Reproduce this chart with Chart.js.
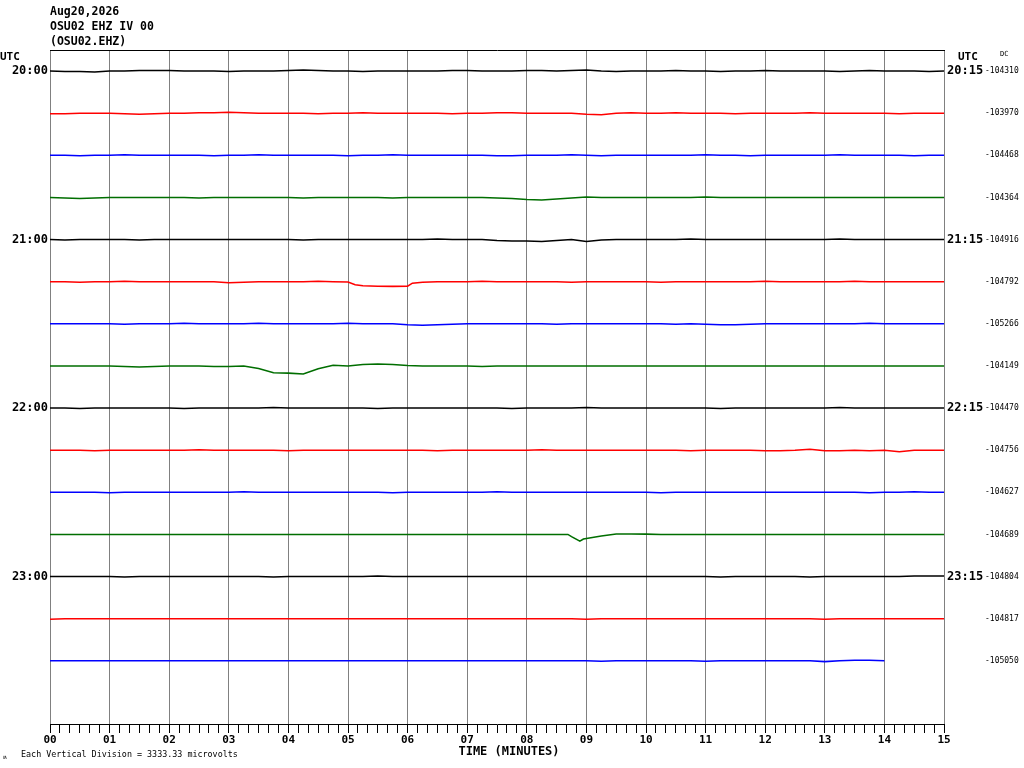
<!DOCTYPE html>
<html>
<head>
<meta charset="utf-8">
<title>OSU02 EHZ IV 00</title>
<script src="https://cdn.jsdelivr.net/npm/chart.js@4.4.1/dist/chart.umd.min.js"></script>
<style>
  html, body { margin: 0; padding: 0; background: #fff; }
  canvas { display: block; }
</style>
</head>
<body>
<canvas id="heli" width="1024" height="768"></canvas>
<script>
// header + labels
const titleLines = ['Aug20,2026', 'OSU02 EHZ IV 00', '(OSU02.EHZ)'];
const hourLabelsLeft = ['20:00', '21:00', '22:00', '23:00'];
const hourLabelsRight = ['20:15', '21:15', '22:15', '23:15'];
const dcOffsets = [-104310, -103970, -104468, -104364, -104916, -104792, -105266, -104149,
                   -104470, -104756, -104627, -104689, -104804, -104817, -105050];
const traceColors = ['#000000', '#ff0000', '#0000ff', '#006e00'];
const divisionText = 'Each Vertical Division = 3333.33 microvolts';

// one sample every 15 s, deviation of each line (42 units = one line spacing, + is down)
const SAMPLE_STEP = 0.25;
const UNITS_PER_DIV = 42;
const trace00 = [0,0.5,0.5,1, 0,0,-0.5,-0.5, -0.5,0,0,0, 0.5,0,0,0, -0.5,-1,-0.5,0, 0,0.5,0,0, 0,0,0,-0.5, -0.5,0,0,0, -0.5,-0.5,0,-0.5, -1,0,0.5,0, 0,0,-0.5,0, 0,0.5,0,0, -0.5,0,0,0, 0,0.5,0,-0.5, 0,0,0,0.5, 0];
const trace01 = [0.5,0.5,0,0, 0,0.5,1,0.5, 0,0,-0.5,-0.5, -1,-0.5,0,0, 0,0,0.5,0, 0,-0.5,0,0, 0,0,0,0.5, 0,0,-0.5,-0.5, 0,0,0,0, 1,1.5,0,-0.5, 0,0,-0.5,0, 0,0,0.5,0, 0,0,0,-0.5, 0,0,0,0, 0,0.5,0,0, 0];
const trace02 = [0,0,0.5,0, 0,-0.5,0,0, 0,0,0,0.5, 0,0,-0.5,0, 0,0,0,0, 0.5,0,0,-0.5, 0,0,0,0, 0,0,0.5,0.5, 0,0,0,-0.5, 0,0.5,0,0, 0,0,0,0, -0.5,0,0,0.5, 0,0,0,0, 0,-0.5,0,0, 0,0,0.5,0, 0];
const trace03 = [0,0.5,1,0.5, 0,0,0,0, 0,0,0.5,0, 0,0,0,0, 0,0.5,0,0, 0,0,0,0.5, 0,0,0,0, 0,0,0.5,1, 2,2.5,1.5,0.5, -0.5,0,0,0, 0,0,0,0, -0.5,0,0,0, 0,0,0,0, 0,0,0,0, 0,0,0,0, 0];
const trace04 = [0,0.5,0,0, 0,0,0.5,0, 0,0,0,0, 0,0,0,0, 0,0.5,0,0, 0,0,0,0, 0,0,-0.5,0, 0,0,1,1.5, 1.5,2,1,0, 2,0.5,0,0, 0,0,0,-0.5, 0,0,0,0, 0,0,0,0, 0,-0.5,0,0, 0,0,0,0, 0];
const trace05 = [0,0,0.5,0, 0,-0.5,0,0, 0,0,0,0, 1,0.5,0,0, 0,0,-0.5,0, 0.3,4,4.5,4.7, 4.4,0.5,0,0, 0,-0.5,0,0, 0,0,0,0.5, 0,0,0,0, 0,0.5,0,0, 0,0,0,0, -0.5,0,0,0, 0,0,-0.5,0, 0,0,0,0, 0];
const trace06 = [0,0,0,0, 0,0.5,0,0, 0,-0.5,0,0, 0,0,-0.5,0, 0,0,0,0, -0.5,0,0,0, 1,1.5,1,0.5, 0,0,0,0, 0,0,0.5,0, 0,0,0,0, 0,0,0.5,0, 0.5,1,1,0.5, 0,0,0,0, 0,0,0,-0.5, 0,0,0,0, 0];
const trace07 = [0,0,0,0, 0,0.5,1,0.5, 0,0,0,0.5, 0.5,0,2.5,6.8, 7.2,8,2.7,-0.7, 0,-1.5,-2,-1.5, -0.5,0,0,0, 0,0.5,0,0, 0,0,0,0, 0,0,0,0, 0,0,0,0, 0,0,0,0, 0,0,0,0, 0,0,0,0, 0,0,0,0, 0];
const trace08 = [0,0,0.5,0, 0,0,0,0, 0,0.5,0,0, 0,0,0,-0.5, 0,0,0,0, 0,0,0.5,0, 0,0,0,0, 0,0,0,0.5, 0,0,0,0, -0.5,0,0,0, 0,0,0,0, 0,0.5,0,0, 0,0,0,0, 0,-0.5,0,0, 0,0,0,0, 0];
const trace09 = [0,0,0,0.5, 0,0,0,0, 0,0,-0.5,0, 0,0,0,0, 0.5,0,0,0, 0,0,0,0, 0,0,0.5,0, 0,0,0,0, 0,-0.5,0,0, 0,0,0,0, 0,0,0,0.5, 0,0,0,0, 0.5,0.5,0,-1, 0.5,0.5,0,0.5, 0,1.5,0,0, 0];
const trace10 = [0,0,0,0, 0.5,0,0,0, 0,0,0,0, 0,-0.5,0,0, 0,0,0,0, 0,0,0,0.5, 0,0,0,0, 0,0,-0.5,0, 0,0,0,0, 0,0,0,0, 0,0.5,0,0, 0,0,0,0, 0,0,0,0, 0,0,0,0.5, 0,0,-0.5,0, 0];
const trace11 = [0,0,0,0, 0,0,0,0, 0,0,0,0, 0,0,0,0, 0,0,0,0, 0,0,0,0, 0,0,0,0, 0,0,0,0, 0,0,0,2.2, 4,1.5,-0.5,-0.5, -0.3,0,0,0, 0,0,0,0, 0,0,0,0, 0,0,0,0, 0,0,0,0, 0];
const trace12 = [0,0,0,0, 0,0.5,0,0, 0,0,0,0, 0,0,0,0.5, 0,0,0,0, 0,0,-0.5,0, 0,0,0,0, 0,0,0,0, 0,0,0,0, 0,0,0,0, 0,0,0,0, 0,0.5,0,0, 0,0,0,0.5, 0,0,0,0, 0,0,-0.5,-0.5, -0.5];
const trace13 = [0.5,0,0,0, 0,0,0,0, 0,0,0,0, 0,0,0,0, 0,0,0,0, 0,0,0,0, 0,0,0,0, 0,0,0,0, 0,0,0,0, 0.5,0,0,0, 0,0,0,0, 0,0,0,0, 0,0,0,0, 0.5,0,0,0, 0,0,0,0, 0];
const trace14 = [0,0,0,0, 0,0,0,0, 0,0,0,0, 0,0,0,0, 0,0,0,0, 0,0,0,0, 0,0,0,0, 0,0,0,0, 0,0,0,0, 0,0.5,0,0, 0,0,0,0, 0.5,0,0,0, 0,0,0,0, 0.8,0,-0.5,-0.5, 0];
const traces = [trace00, trace01, trace02, trace03, trace04, trace05, trace06, trace07,
                trace08, trace09, trace10, trace11, trace12, trace13, trace14];

// sharp wiggles that fall between the 15 s samples: [minute, deviation]
const extraPoints = {
  5: [[5.12, 3], [6.08, 1.5]],
  11: [[8.69, 0], [8.89, 6.7], [8.95, 4.5]]
};

const ctx = document.getElementById('heli');

function buildDatasets() {
  return traces.map((offs, i) => {
    let pts = offs.map((d, k) => ({ x: k * SAMPLE_STEP, y: -i - d / UNITS_PER_DIV }));
    (extraPoints[i] || []).forEach(p => pts.push({ x: p[0], y: -i - p[1] / UNITS_PER_DIV }));
    pts.sort((a, b) => a.x - b.x);
    return {
      data: pts,
      borderColor: traceColors[i % 4],
      borderWidth: 1.6,
      pointRadius: 0,
      tension: 0,
      fill: false
    };
  });
}

function traceTicks(scale) {
  scale.ticks = traces.map((t, i) => ({ value: -i }));
}

// extra texts and the top frame line
const decorations = {
  id: 'decorations',
  afterDraw(chart) {
    const c = chart.ctx;
    const area = chart.chartArea;
    c.save();
    c.strokeStyle = '#000';
    c.lineWidth = 1;
    c.beginPath();
    c.moveTo(area.left, area.top + 0.5);
    c.lineTo(area.right + 1, area.top + 0.5);
    c.stroke();

    c.fillStyle = '#000';
    c.textBaseline = 'middle';
    c.textAlign = 'left';
    c.font = 'bold 11.5px "DejaVu Sans Mono"';
    titleLines.forEach((t, i) => c.fillText(t, 50, 12 + i * 15));

    c.font = 'bold 11px "DejaVu Sans Mono"';
    c.fillText('UTC', 0, 57);
    c.fillText('UTC', 958, 57);
    c.font = '7px "DejaVu Sans Mono"';
    c.fillText('DC', 1000, 54);

    c.font = 'bold 12px "DejaVu Sans Mono"';
    c.textAlign = 'center';
    c.fillText('TIME (MINUTES)', 509, 752);

    c.textAlign = 'left';
    c.font = '8.4px "DejaVu Sans Mono"';
    c.fillText(divisionText, 21, 755);
    c.font = '6px "DejaVu Sans Mono"';
    c.fillText('ʍ', 3, 757);
    c.restore();
  }
};

const yMax = 0.5;
const yMin = -15.5;

new Chart(ctx, {
  type: 'line',
  data: { datasets: buildDatasets() },
  options: {
    responsive: false,
    animation: false,
    events: [],
    devicePixelRatio: 1,
    layout: { padding: { top: 50, left: 0, right: 0, bottom: 0 } },
    plugins: { legend: { display: false }, tooltip: { enabled: false }, title: { display: false } },
    scales: {
      x: {
        type: 'linear',
        min: 0,
        max: 15,
        afterBuildTicks: scale => {
          let t = [];
          for (let k = 0; k <= 90; k++) t.push({ value: k / 6 });
          scale.ticks = t;
        },
        afterFit: scale => { scale.height = 44; },
        grid: {
          color: c => (c.index % 6 === 0 ? '#808080' : 'rgba(0,0,0,0)'),
          tickColor: '#000',
          tickLength: 9,
          lineWidth: 1,
          drawTicks: true
        },
        border: { display: true, color: '#000', width: 1 },
        ticks: {
          autoSkip: false,
          maxRotation: 0,
          padding: 1,
          color: '#000',
          font: { family: 'DejaVu Sans Mono', size: 11, weight: 'bold' },
          callback: (v, idx) => (idx % 6 === 0 ? String(idx / 6).padStart(2, '0') : '')
        }
      },
      y: {
        type: 'linear',
        position: 'left',
        min: yMin,
        max: yMax,
        afterBuildTicks: traceTicks,
        afterFit: scale => { scale.width = 50; },
        grid: { display: false, drawTicks: false },
        border: { display: false },
        ticks: {
          autoSkip: false,
          padding: 2,
          color: '#000',
          font: { family: 'DejaVu Sans Mono', size: 12, weight: 'bold' },
          callback: (v, idx) => (idx % 4 === 0 ? hourLabelsLeft[idx / 4] : '')
        }
      },
      yTime: {
        type: 'linear',
        position: 'right',
        min: yMin,
        max: yMax,
        afterBuildTicks: traceTicks,
        afterFit: scale => { scale.width = 40; },
        grid: { display: false, drawTicks: false },
        border: { display: false },
        ticks: {
          autoSkip: false,
          padding: 3,
          color: '#000',
          font: { family: 'DejaVu Sans Mono', size: 12, weight: 'bold' },
          callback: (v, idx) => (idx % 4 === 0 ? hourLabelsRight[idx / 4] : '')
        }
      },
      yDc: {
        type: 'linear',
        position: 'right',
        min: yMin,
        max: yMax,
        afterBuildTicks: traceTicks,
        afterFit: scale => { scale.width = 40; },
        grid: { display: false, drawTicks: false },
        border: { display: false },
        ticks: {
          autoSkip: false,
          padding: 1,
          color: '#000',
          font: { family: 'DejaVu Sans Mono', size: 8 },
          callback: (v, idx) => String(dcOffsets[idx])
        }
      }
    }
  },
  plugins: [decorations]
});
</script>
</body>
</html>
